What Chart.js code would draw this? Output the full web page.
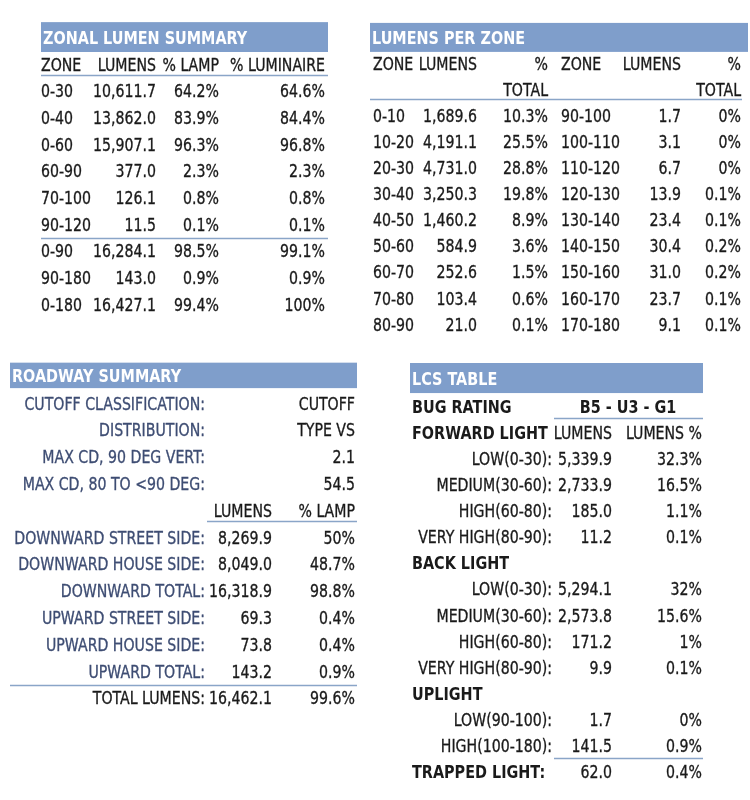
<!DOCTYPE html>
<html>
<head>
<meta charset="utf-8">
<script src="https://cdn.jsdelivr.net/npm/chart.js@4.4.1/dist/chart.umd.min.js"></script>
<style>
  body { margin: 0; background: #fff; }
  #wrap { position: relative; width: 750px; height: 800px; overflow: hidden; }
  #wrap canvas { position: absolute; }
</style>
</head>
<body>
<div id="wrap">
  <canvas id="zonal" style="left:0;top:0"></canvas>
  <canvas id="perzone" style="left:360px;top:0"></canvas>
  <canvas id="roadway" style="left:0;top:345px"></canvas>
  <canvas id="lcs" style="left:400px;top:345px"></canvas>
</div>
<script>
// Zonal lumen summary
const zonalZones = ['0-30', '0-40', '0-60', '60-90', '70-100', '90-120', '0-90', '90-180', '0-180'];
const zonalLumens = [10611.7, 13862.0, 15907.1, 377.0, 126.1, 11.5, 16284.1, 143.0, 16427.1];
const zonalLampPct = [64.2, 83.9, 96.3, 2.3, 0.8, 0.1, 98.5, 0.9, 99.4];
const zonalLumPct = [64.6, 84.4, 96.8, 2.3, 0.8, 0.1, 99.1, 0.9, 100];

// Lumens per zone (two halves)
const zonesLow = ['0-10', '10-20', '20-30', '30-40', '40-50', '50-60', '60-70', '70-80', '80-90'];
const lumensLow = [1689.6, 4191.1, 4731.0, 3250.3, 1460.2, 584.9, 252.6, 103.4, 21.0];
const pctLow = [10.3, 25.5, 28.8, 19.8, 8.9, 3.6, 1.5, 0.6, 0.1];
const zonesHigh = ['90-100', '100-110', '110-120', '120-130', '130-140', '140-150', '150-160', '160-170', '170-180'];
const lumensHigh = [1.7, 3.1, 6.7, 13.9, 23.4, 30.4, 31.0, 23.7, 9.1];
const pctHigh = [0, 0, 0, 0.1, 0.1, 0.2, 0.2, 0.1, 0.1];

// Roadway summary
const roadInfoLabels = ['CUTOFF CLASSIFICATION:', 'DISTRIBUTION:', 'MAX CD, 90 DEG VERT:', 'MAX CD, 80 TO <90 DEG:'];
const roadInfoValues = ['CUTOFF', 'TYPE VS', '2.1', '54.5'];
const roadLabels = ['DOWNWARD STREET SIDE:', 'DOWNWARD HOUSE SIDE:', 'DOWNWARD TOTAL:', 'UPWARD STREET SIDE:', 'UPWARD HOUSE SIDE:', 'UPWARD TOTAL:', 'TOTAL LUMENS:'];
const roadLumens = [8269.9, 8049.0, 16318.9, 69.3, 73.8, 143.2, 16462.1];
const roadPct = [50, 48.7, 98.8, 0.4, 0.4, 0.9, 99.6];

// LCS table
const bugRating = 'B5 - U3 - G1';
const lcsLabels = ['LOW(0-30):', 'MEDIUM(30-60):', 'HIGH(60-80):', 'VERY HIGH(80-90):'];
const forwardLumens = [5339.9, 2733.9, 185.0, 11.2];
const forwardPct = [32.3, 16.5, 1.1, 0.1];
const backLumens = [5294.1, 2573.8, 171.2, 9.9];
const backPct = [32, 15.6, 1, 0.1];
const upLabels = ['LOW(90-100):', 'HIGH(100-180):'];
const upLumens = [1.7, 141.5];
const upPct = [0, 0.9];
const trappedLumens = 62.0;
const trappedPct = 0.4;

const BAR_COLOR = '#7f9ecb';
const RULE_COLOR = '#8aa5c8';
const TEXT_COLOR = '#1a1a1a';
const LABEL_BLUE = '#3e4d73';
const FONT = '"DejaVu Sans", "Open Sans", sans-serif';

function lm(v) {
  return v.toLocaleString('en-US', { minimumFractionDigits: 1, maximumFractionDigits: 1 });
}
function pc(v) {
  return v + '%';
}

function drawText(ctx, text, x, y, align, bold, color) {
  ctx.save();
  ctx.font = (bold ? '700 ' : '') + '18px ' + FONT;
  ctx.fillStyle = color || TEXT_COLOR;
  ctx.strokeStyle = ctx.fillStyle;
  ctx.lineWidth = 0.35;
  ctx.textAlign = align;
  ctx.textBaseline = 'alphabetic';
  ctx.translate(x, y + 6.5);
  ctx.scale(bold ? 0.8 : 0.785, 1);
  ctx.fillText(text, 0, 0);
  if (!bold) ctx.strokeText(text, 0, 0);
  ctx.restore();
}

// draws the title bar, the rules and the text of every cell
const tablePlugin = {
  id: 'tableText',
  beforeDatasetsDraw(chart, args, opts) {
    const ctx = chart.ctx;
    const xs = chart.scales.x, ys = chart.scales.y;
    const bar = opts.bar;
    if (bar) {
      const x0 = xs.getPixelForValue(bar.x0), x1 = xs.getPixelForValue(bar.x1);
      const y0 = ys.getPixelForValue(bar.row - bar.h / 2), y1 = ys.getPixelForValue(bar.row + bar.h / 2);
      ctx.fillStyle = BAR_COLOR;
      ctx.fillRect(x0, y0, x1 - x0, y1 - y0);
      drawText(ctx, bar.title, x0 + 2, (y0 + y1) / 2, 'left', true, '#ffffff');
    }
    (opts.rules || []).forEach(r => {
      const y = Math.round(ys.getPixelForValue(r.row)) + 0.5;
      ctx.strokeStyle = RULE_COLOR;
      ctx.lineWidth = 1.5;
      ctx.beginPath();
      ctx.moveTo(xs.getPixelForValue(r.x0), y);
      ctx.lineTo(xs.getPixelForValue(r.x1), y);
      ctx.stroke();
    });
  },
  afterDatasetsDraw(chart) {
    const ctx = chart.ctx;
    chart.data.datasets.forEach((ds, i) => {
      const meta = chart.getDatasetMeta(i);
      meta.data.forEach((pt, j) => {
        const c = ds.data[j];
        drawText(ctx, c.t, pt.x, pt.y, ds.cellAlign, c.bold, c.color);
      });
    });
  }
};

function makeTable(id, t) {
  const canvas = document.getElementById(id);
  canvas.width = t.width;
  canvas.height = t.height;
  const datasets = t.cols.map((col, k) => ({
    data: t.cells.filter(c => c.col === k).map(c => ({ x: col.x, y: c.row, t: c.text, bold: c.bold, color: c.color })),
    cellAlign: col.align,
    pointRadius: 0,
    pointHoverRadius: 0
  }));
  return new Chart(canvas, {
    type: 'scatter',
    data: { datasets },
    options: {
      responsive: false,
      animation: false,
      events: [],
      layout: { padding: 0 },
      plugins: {
        legend: { display: false },
        tooltip: { enabled: false },
        tableText: { bar: t.bar, rules: t.rules }
      },
      scales: {
        x: { type: 'linear', display: false, min: 0, max: t.width },
        y: { type: 'linear', display: false, reverse: true, min: -t.y0 / t.pitch, max: (t.height - t.y0) / t.pitch }
      }
    },
    plugins: [tablePlugin]
  });
}

// ---- zonal lumen summary
const zonalCells = [
  { row: 0, col: 0, text: 'ZONE' }, { row: 0, col: 1, text: 'LUMENS' },
  { row: 0, col: 2, text: '% LAMP' }, { row: 0, col: 3, text: '% LUMINAIRE' }
];
zonalZones.forEach((z, i) => {
  const r = i + 1;
  zonalCells.push({ row: r, col: 0, text: z }, { row: r, col: 1, text: lm(zonalLumens[i]) },
    { row: r, col: 2, text: pc(zonalLampPct[i]) }, { row: r, col: 3, text: pc(zonalLumPct[i]) });
});
makeTable('zonal', {
  width: 340, height: 330, pitch: 26.67, y0: 64,
  cols: [{ x: 41, align: 'left' }, { x: 156, align: 'right' }, { x: 219, align: 'right' }, { x: 325, align: 'right' }],
  cells: zonalCells,
  bar: { title: 'ZONAL LUMEN SUMMARY', x0: 41, x1: 328, row: -1.01, h: 1.12 },
  rules: [{ row: 0.43, x0: 41, x1: 328 }, { row: 6.53, x0: 41, x1: 328 }]
});

// ---- lumens per zone
const zoneCells = [
  { row: 0, col: 0, text: 'ZONE' }, { row: 0, col: 1, text: 'LUMENS' }, { row: 0, col: 2, text: '%' },
  { row: 0, col: 3, text: 'ZONE' }, { row: 0, col: 4, text: 'LUMENS' }, { row: 0, col: 5, text: '%' },
  { row: 1, col: 2, text: 'TOTAL' }, { row: 1, col: 5, text: 'TOTAL' }
];
zonesLow.forEach((z, i) => {
  const r = i + 2;
  zoneCells.push({ row: r, col: 0, text: z }, { row: r, col: 1, text: lm(lumensLow[i]) }, { row: r, col: 2, text: pc(pctLow[i]) },
    { row: r, col: 3, text: zonesHigh[i] }, { row: r, col: 4, text: lm(lumensHigh[i]) }, { row: r, col: 5, text: pc(pctHigh[i]) });
});
makeTable('perzone', {
  width: 390, height: 345, pitch: 26.12, y0: 63,
  cols: [{ x: 13, align: 'left' }, { x: 117, align: 'right' }, { x: 188, align: 'right' },
         { x: 201, align: 'left' }, { x: 321, align: 'right' }, { x: 381, align: 'right' }],
  cells: zoneCells,
  bar: { title: 'LUMENS PER ZONE', x0: 10, x1: 388, row: -0.98, h: 1.11 },
  rules: [{ row: 1.38, x0: 10, x1: 382 }]
});

// ---- roadway summary
const roadCells = [];
roadInfoLabels.forEach((l, i) => {
  roadCells.push({ row: i, col: 0, text: l, color: LABEL_BLUE }, { row: i, col: 2, text: roadInfoValues[i] });
});
roadCells.push({ row: 4, col: 1, text: 'LUMENS' }, { row: 4, col: 2, text: '% LAMP' });
roadLabels.forEach((l, i) => {
  const r = i + 5;
  const last = i === roadLabels.length - 1;
  roadCells.push({ row: r, col: 0, text: l, color: last ? TEXT_COLOR : LABEL_BLUE },
    { row: r, col: 1, text: lm(roadLumens[i]) }, { row: r, col: 2, text: pc(roadPct[i]) });
});
makeTable('roadway', {
  width: 370, height: 375, pitch: 26.8, y0: 58,
  cols: [{ x: 205, align: 'right' }, { x: 272, align: 'right' }, { x: 355, align: 'right' }],
  cells: roadCells,
  bar: { title: 'ROADWAY SUMMARY', x0: 10, x1: 357, row: -1.03, h: 0.95 },
  rules: [{ row: 4.42, x0: 207, x1: 357 }, { row: 10.52, x0: 10, x1: 357 }]
});

// ---- LCS table
const lcsCells = [
  { row: 0, col: 0, text: 'BUG RATING', bold: true }, { row: 0, col: 4, text: bugRating, bold: true },
  { row: 1, col: 0, text: 'FORWARD LIGHT', bold: true }, { row: 1, col: 2, text: 'LUMENS' }, { row: 1, col: 3, text: 'LUMENS %' },
  { row: 6, col: 0, text: 'BACK LIGHT', bold: true },
  { row: 11, col: 0, text: 'UPLIGHT', bold: true },
  { row: 14, col: 0, text: 'TRAPPED LIGHT:', bold: true }, { row: 14, col: 2, text: lm(trappedLumens) }, { row: 14, col: 3, text: pc(trappedPct) }
];
lcsLabels.forEach((l, i) => {
  lcsCells.push({ row: i + 2, col: 1, text: l }, { row: i + 2, col: 2, text: lm(forwardLumens[i]) }, { row: i + 2, col: 3, text: pc(forwardPct[i]) });
  lcsCells.push({ row: i + 7, col: 1, text: l }, { row: i + 7, col: 2, text: lm(backLumens[i]) }, { row: i + 7, col: 3, text: pc(backPct[i]) });
});
upLabels.forEach((l, i) => {
  lcsCells.push({ row: i + 12, col: 1, text: l }, { row: i + 12, col: 2, text: lm(upLumens[i]) }, { row: i + 12, col: 3, text: pc(upPct[i]) });
});
makeTable('lcs', {
  width: 350, height: 455, pitch: 26.14, y0: 61,
  cols: [{ x: 12, align: 'left' }, { x: 152, align: 'right' }, { x: 212, align: 'right' }, { x: 302, align: 'right' }, { x: 228, align: 'center' }],
  cells: lcsCells,
  bar: { title: 'LCS TABLE', x0: 10, x1: 303, row: -1.07, h: 1.15 },
  rules: [{ row: 0.46, x0: 154, x1: 303 }, { row: 13.47, x0: 154, x1: 303 }]
});
</script>
</body>
</html>
